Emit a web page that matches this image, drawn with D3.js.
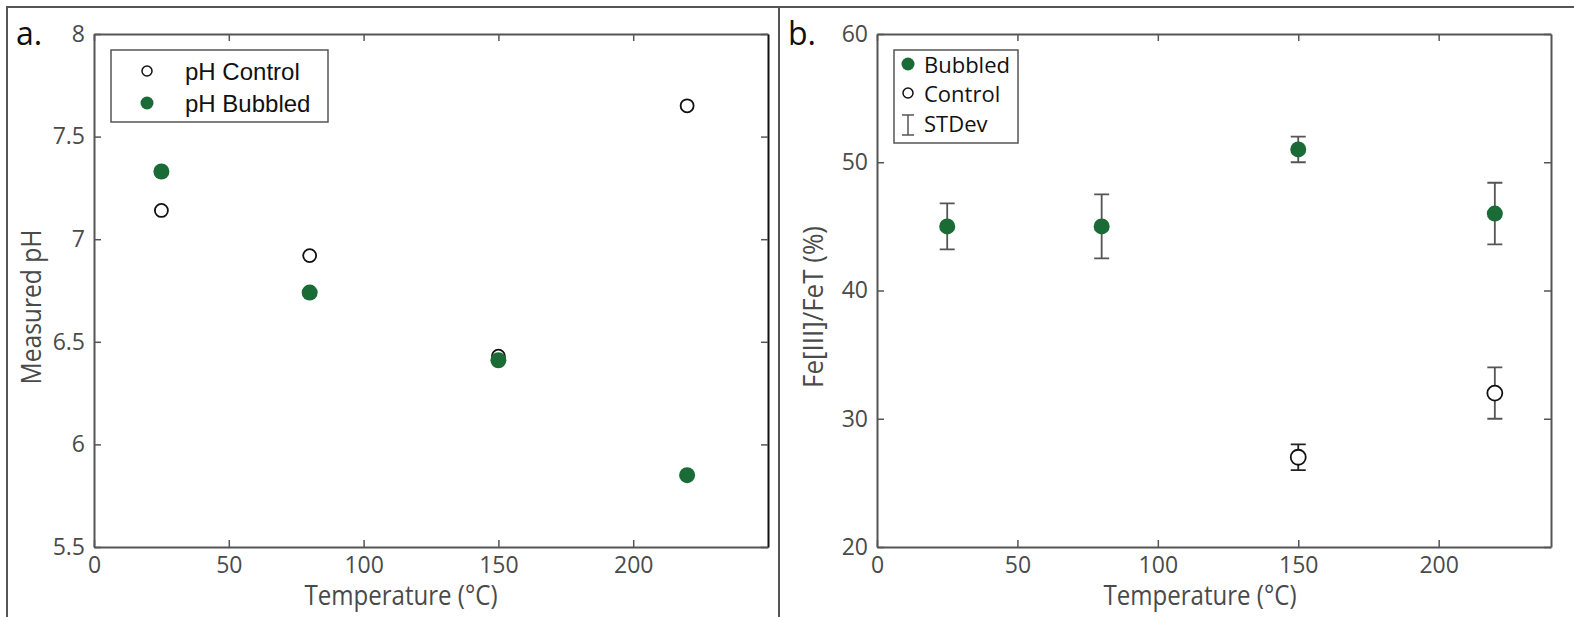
<!DOCTYPE html>
<html>
<head>
<meta charset="utf-8">
<script src="https://cdn.jsdelivr.net/npm/d3@7"></script>
<style>
body { margin: 0; background: #fff; }
svg text { font-family: "Open Sans", "Noto Sans", sans-serif; }
</style>
</head>
<body>
<div id="chart"></div>
<script>
// panel a: measured pH
const tempsA = [25, 80, 150, 220];
const phControl = [7.14, 6.92, 6.43, 7.65];
const phBubbled = [7.33, 6.74, 6.41, 5.85];
const phTicks = [5.5, 6, 6.5, 7, 7.5, 8];

// panel b: Fe[III]/FeT
const tempsBubbled = [25, 80, 150, 220];
const feBubbled = [45, 45, 51, 46];
const sdBubbled = [1.8, 2.5, 1, 2.4];
const tempsControl = [150, 220];
const feControl = [27, 32];
const sdControl = [1, 2];
const feTicks = [20, 30, 40, 50, 60];

const tempTicks = [0, 50, 100, 150, 200];

const width = 1574, height = 617;
const green = "#1a6b35";
const axisCol = "#555";
const textCol = "#4a4a4a";

const svg = d3.select("#chart").append("svg").attr("width", width).attr("height", height);

// outer frame
svg.append("path")
    .attr("d", "M7,620 V7 H1580 M779,7 V620")
    .attr("fill", "none")
    .attr("stroke", axisCol)
    .attr("stroke-width", 2);

function styleAxis(g) {
    g.selectAll(".domain").attr("stroke", axisCol).attr("stroke-width", 2);
    g.selectAll(".tick line").attr("stroke", axisCol).attr("stroke-width", 1.5);
    g.selectAll(".tick text").attr("fill", textCol).attr("font-size", 23)
        .style("font-family", "'Open Sans', sans-serif");
}

function panel(opt) {
    const x = d3.scaleLinear().domain(opt.xDomain).range([opt.left, opt.right]);
    const y = d3.scaleLinear().domain(opt.yDomain).range([opt.bottom, opt.top]);

    svg.append("g").attr("transform", `translate(0,${opt.bottom})`)
        .call(d3.axisBottom(x).tickValues(tempTicks).tickSizeInner(-7).tickSizeOuter(0).tickPadding(10))
        .call(styleAxis);
    svg.append("g").attr("transform", `translate(0,${opt.top})`)
        .call(d3.axisTop(x).tickValues(tempTicks).tickSizeInner(-7).tickSizeOuter(0).tickFormat(""))
        .call(styleAxis);
    svg.append("g").attr("transform", `translate(${opt.left},0)`)
        .call(d3.axisLeft(y).tickValues(opt.yTicks).tickSizeInner(-7).tickSizeOuter(0).tickPadding(9).tickFormat(d3.format("~g")))
        .call(styleAxis);
    const rAx = svg.append("g").attr("transform", `translate(${opt.right},0)`)
        .call(d3.axisRight(y).tickValues(opt.yTicks).tickSizeInner(-7).tickSizeOuter(0).tickFormat(""))
        .call(styleAxis);
    if (opt.rightBlack) rAx.select(".domain").attr("stroke", "#111");

    svg.append("text")
        .attr("x", opt.xLabelX).attr("y", 605)
        .attr("text-anchor", "middle").attr("fill", textCol).attr("font-size", 28)
        .attr("textLength", 193).attr("lengthAdjust", "spacingAndGlyphs")
        .text("Temperature (°C)");
    svg.append("text")
        .attr("transform", `translate(${opt.yLabelX},307) rotate(-90)`)
        .attr("text-anchor", "middle").attr("fill", textCol).attr("font-size", 28)
        .attr("textLength", opt.yLabelLen).attr("lengthAdjust", "spacingAndGlyphs")
        .text(opt.yLabel);
    svg.append("text")
        .attr("x", opt.tagX).attr("y", 45)
        .attr("fill", "#111").attr("font-size", 32)
        .text(opt.tag);
    return {x, y};
}

// ---- panel a
const a = panel({
    xDomain: [0, 250], yDomain: [5.5, 8], yTicks: phTicks,
    left: 94, right: 768, top: 34, bottom: 547,
    xLabelX: 401, yLabel: "Measured pH", yLabelX: 41, yLabelLen: 155,
    tag: "a.", tagX: 16, rightBlack: true
});

svg.append("g").selectAll("circle")
    .data(tempsA.map((t, i) => ({t, v: phControl[i]})))
    .join("circle")
    .attr("cx", d => a.x(d.t)).attr("cy", d => a.y(d.v)).attr("r", 6.5)
    .attr("fill", "none").attr("stroke", "#111").attr("stroke-width", 1.8);

svg.append("g").selectAll("circle")
    .data(tempsA.map((t, i) => ({t, v: phBubbled[i]})))
    .join("circle")
    .attr("cx", d => a.x(d.t)).attr("cy", d => a.y(d.v)).attr("r", 8)
    .attr("fill", green);

// legend a
const legA = svg.append("g");
legA.append("rect").attr("x", 111).attr("y", 50).attr("width", 217).attr("height", 72)
    .attr("fill", "#fff").attr("stroke", axisCol).attr("stroke-width", 1.5);
legA.append("circle").attr("cx", 147).attr("cy", 71).attr("r", 5)
    .attr("fill", "none").attr("stroke", "#111").attr("stroke-width", 1.5);
legA.append("circle").attr("cx", 147).attr("cy", 103).attr("r", 6.5).attr("fill", green);
legA.append("text").attr("x", 185).attr("y", 80).attr("font-size", 24).attr("fill", "#111")
    .style("font-family", "'Liberation Sans', Arial, sans-serif").text("pH Control");
legA.append("text").attr("x", 185).attr("y", 112).attr("font-size", 24).attr("fill", "#111")
    .style("font-family", "'Liberation Sans', Arial, sans-serif").text("pH Bubbled");

// ---- panel b
const b = panel({
    xDomain: [0, 240], yDomain: [20, 60], yTicks: feTicks,
    left: 877, right: 1551, top: 34, bottom: 547,
    xLabelX: 1200, yLabel: "Fe[III]/FeT (%)", yLabelX: 823, yLabelLen: 162,
    tag: "b.", tagX: 788
});

function errorBars(ts, vs, sds, color) {
    const g = svg.append("g").attr("stroke", color).attr("stroke-width", 1.8).attr("fill", "none");
    ts.forEach((t, i) => {
        const cx = b.x(t), y0 = b.y(vs[i] - sds[i]), y1 = b.y(vs[i] + sds[i]);
        g.append("path").attr("d", `M${cx},${y0}V${y1}M${cx - 7.5},${y0}H${cx + 7.5}M${cx - 7.5},${y1}H${cx + 7.5}`);
    });
}

errorBars(tempsBubbled, feBubbled, sdBubbled, axisCol);
errorBars(tempsControl.slice(0, 1), feControl.slice(0, 1), sdControl.slice(0, 1), "#222");
errorBars(tempsControl.slice(1), feControl.slice(1), sdControl.slice(1), axisCol);

svg.append("g").selectAll("circle")
    .data(tempsBubbled.map((t, i) => ({t, v: feBubbled[i]})))
    .join("circle")
    .attr("cx", d => b.x(d.t)).attr("cy", d => b.y(d.v)).attr("r", 8)
    .attr("fill", green);

svg.append("g").selectAll("circle")
    .data(tempsControl.map((t, i) => ({t, v: feControl[i]})))
    .join("circle")
    .attr("cx", d => b.x(d.t)).attr("cy", d => b.y(d.v)).attr("r", 7.5)
    .attr("fill", "#fff").attr("stroke", "#111").attr("stroke-width", 1.8);

// legend b
const legB = svg.append("g");
legB.append("rect").attr("x", 894).attr("y", 50).attr("width", 124).attr("height", 93)
    .attr("fill", "#fff").attr("stroke", axisCol).attr("stroke-width", 1.5);
legB.append("circle").attr("cx", 908).attr("cy", 64).attr("r", 6.5).attr("fill", green);
legB.append("circle").attr("cx", 908).attr("cy", 93).attr("r", 5)
    .attr("fill", "none").attr("stroke", "#111").attr("stroke-width", 1.5);
legB.append("path").attr("d", "M908,115V135M902,115H914M902,135H914")
    .attr("stroke", axisCol).attr("stroke-width", 1.5);
[["Bubbled", 73], ["Control", 102], ["STDev", 132]].forEach(([t, yy]) => {
    legB.append("text").attr("x", 924).attr("y", yy).attr("font-size", 22).attr("fill", "#111").text(t);
});
</script>
</body>
</html>
